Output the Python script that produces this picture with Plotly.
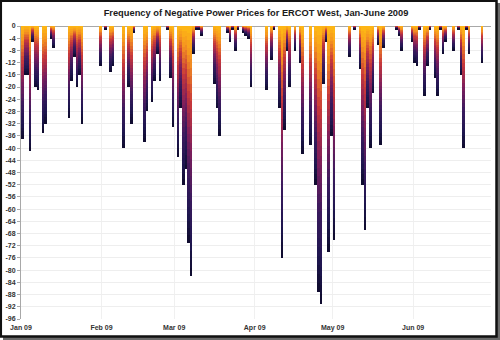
import pandas as pd
import plotly.graph_objects as go
from plotly.colors import sample_colorscale

# ---- data (hours with negative prices per day, shown as negative bars) ----
jan = [-37, -16, -16, -41, -5, -20, -21, 0, -35, -32, 0, -4, -7, 0, 0, 0, 0, 0,
       -30, -18, -10, -20, -16, -32, 0, 0, 0, 0, 0, 0, -13]
feb = [0, -1, 0, -15, -13, 0, 0, 0, -40, 0, -20, -32, -2, 0, 0, 0, -38, -28, 0,
       -25, -18, -9, -18, 0, 0, -1, -17, -33]
mar = [0, -43, -27, -52, -47, -71, -82, -9, -1, -1, -3, 0, 0, 0, 0, -19, -27, -36,
       0, 0, -2, -5, -1, -8, -1, 0, -2, -3, -4, -20, 0]
apr = [0, 0, 0, 0, -21, 0, -11, -1, 0, -27, -76, -34, -8, -20, 0, -8, 0, -12, -42,
       0, 0, -39, 0, -52, -87, -91, -19, -5, -74, -36]
may = [-70, 0, 0, 0, 0, 0, -10, 0, -1, 0, -14, -52, -67, -27, -40, -22, 0, -6, -39,
       -7, 0, 0, 0, 0, -1, -3, -8, 0, 0, 0, -5]
jun = [-12, -13, -1, 0, -23, -13, -1, 0, -17, -23, -1, -9, -5, 0, 0, -8, 0, -1, -16,
       -40, -1, -9, 0, 0, 0, 0, -12, 0, 0, 0]

month_labels = ["Jan 09", "Feb 09", "Mar 09", "Apr 09", "May 09", "Jun 09"]
start_date = "2009-01-01"
end_date = "2009-07-01"
y_tick_vals = list(range(0, -97, -4))
y_tick_text = [str(v) for v in y_tick_vals]
title_text = "Frequency of Negative Power Prices for ERCOT West, Jan-June 2009"

values = jan + feb + mar + apr + may + jun
dates = pd.date_range(start_date, periods=len(values), freq="D")
month_ticks = pd.date_range(start_date, periods=len(month_labels), freq="MS")

# ---- styling ----
W, H = 500, 340
L, R, T, B = 21, 9, 26, 21
PW, PH = W - L - R, H - T - B
gradient = [[0.0, "#FDB515"], [0.12, "#F59420"], [0.3, "#C8383A"],
            [0.5, "#7E1E5C"], [0.7, "#3A1A5E"], [0.88, "#1E1650"], [1.0, "#100C30"]]
N = 30
seg_colors = sample_colorscale(gradient, [k / (N - 1) for k in range(N)])
DAY_MS = 86400000

fig = go.Figure()
for k in range(N):
    fig.add_trace(go.Bar(
        x=dates, y=[v / N for v in values], base=[v * k / N for v in values],
        width=DAY_MS, offset=0, marker=dict(color=seg_colors[k], line=dict(width=0)),
        hoverinfo="skip", showlegend=False))


def px_x(p):
    return (p - L) / PW


def px_y(p):
    return (H - B - p) / PH


shapes = [
    dict(type="rect", xref="paper", yref="paper", layer="below",
         x0=px_x(3), x1=px_x(500), y0=px_y(340), y1=px_y(3),
         fillcolor="#6a6a6a", line=dict(width=0)),
    dict(type="rect", xref="paper", yref="paper", layer="below",
         x0=px_x(0.8), x1=px_x(496.5), y0=px_y(336.5), y1=px_y(0.8),
         fillcolor="white", line=dict(color="#111111", width=2.5)),
]

tick_font = dict(family="Liberation Sans, Arial, sans-serif",
                 size=7, color="#333333", weight="bold")

fig.update_layout(
    width=W, height=H, margin=dict(l=L, r=R, t=T, b=B, autoexpand=False),
    paper_bgcolor="white", plot_bgcolor="rgba(0,0,0,0)",
    barmode="overlay", bargap=0, shapes=shapes,
    title=dict(text=title_text, x=0.5, xref="paper", xanchor="center",
               y=1 - 12.5 / H, yanchor="middle",
               font=dict(family="Liberation Sans, Arial, sans-serif",
                         size=9.3, color="#1a1a1a", weight="bold")),
    xaxis=dict(type="date", range=[start_date, end_date],
               tickvals=month_ticks, ticktext=month_labels,
               showgrid=True, gridcolor="#f0f0f0", gridwidth=1,
               showline=False, ticks="", ticklabelstandoff=3,
               tickfont=tick_font, zeroline=False),
    yaxis=dict(range=[-96, 0], tickvals=y_tick_vals, ticktext=y_tick_text,
               showgrid=True, gridcolor="#eeeeee", gridwidth=1,
               showline=True, linecolor="#a8a8a8", linewidth=1,
               ticks="outside", ticklen=3, tickcolor="#a8a8a8",
               tickfont=tick_font, zeroline=True, zerolinecolor="#a8a8a8",
               zerolinewidth=1),
)

fig.write_html("out.html")
